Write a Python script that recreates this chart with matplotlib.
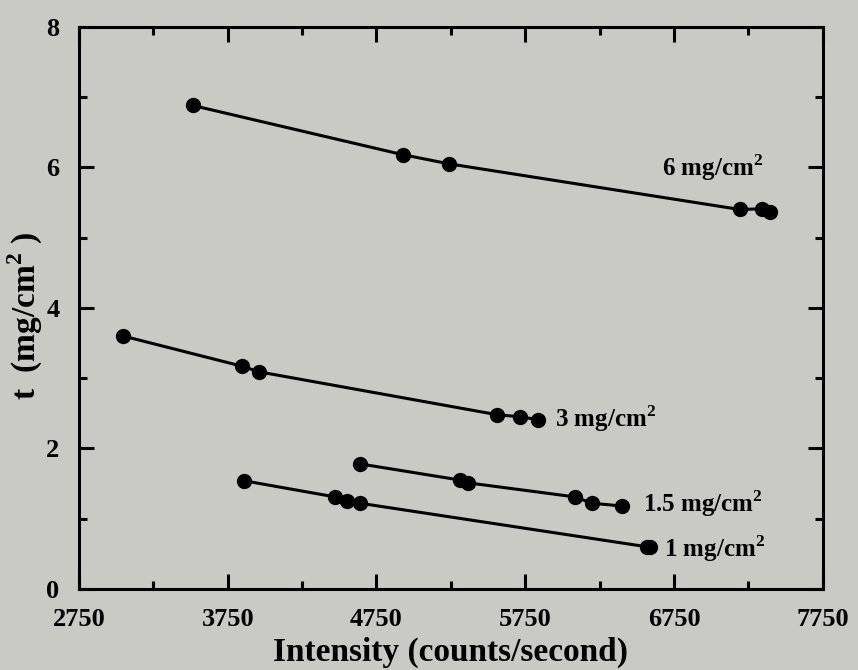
import numpy as np
import matplotlib.pyplot as plt

# thickness data
int_6 = [3516, 4927, 5237, 7192, 7340, 7394]
t_6 = [6.88, 6.18, 6.05, 5.40, 5.41, 5.36]

int_3 = [3046, 3845, 3960, 5559, 5714, 5835]
t_3 = [3.60, 3.17, 3.09, 2.48, 2.45, 2.41]

int_15 = [4638, 5310, 5364, 6083, 6198, 6399]
t_15 = [1.78, 1.55, 1.51, 1.31, 1.22, 1.18]

int_1 = [3859, 4470, 4551, 4638, 6567, 6587]
t_1 = [1.54, 1.31, 1.25, 1.22, 0.60, 0.60]

labels = ['6 mg/cm$^{\\mathbf{2}}$', '3 mg/cm$^{\\mathbf{2}}$',
          '1.5 mg/cm$^{\\mathbf{2}}$', '1 mg/cm$^{\\mathbf{2}}$']
label_pos = [(6670, 6.0), (5950, 2.42), (6540, 1.22), (6680, 0.58)]

xticks = [2750, 3750, 4750, 5750, 6750, 7750]
yticks = [0, 2, 4, 6, 8]

plt.rcParams['font.family'] = 'Liberation Serif'
plt.rcParams['font.weight'] = 'bold'
plt.rcParams['mathtext.fontset'] = 'custom'
plt.rcParams['mathtext.rm'] = 'Liberation Serif:bold'
plt.rcParams['mathtext.bf'] = 'Liberation Serif:bold'

bg = '#c9cac4'
fig = plt.figure(figsize=(8.58, 6.70), dpi=100, facecolor=bg)
ax = fig.add_axes([0.092, 0.121, 0.867, 0.839], facecolor=bg)

for xs, ys in [(int_6, t_6), (int_3, t_3), (int_15, t_15), (int_1, t_1)]:
    ax.plot(xs, ys, color='black', lw=2.2, marker='o', ms=10, mfc='black', mec='black')

for txt, (x, y) in zip(labels, label_pos):
    ax.text(x, y, txt, fontsize=18, fontweight='bold', va='center', ha='left')

ax.set_xlim(2750, 7750)
ax.set_ylim(0, 8)
ax.set_xticks(xticks)
ax.set_xticks(np.arange(3250, 7750, 1000), minor=True)
ax.set_yticks(yticks)
ax.set_yticks([1, 3, 5, 7], minor=True)
ax.tick_params(which='both', direction='in', top=True, right=True, width=2.2)
ax.tick_params(which='major', length=11, labelsize=19)
ax.tick_params(which='minor', length=6)
ax.tick_params(axis='x', pad=14)
ax.tick_params(axis='y', pad=14)
for s in ax.spines.values():
    s.set_linewidth(2.2)

ax.set_xlabel('Intensity (counts/second)', fontsize=24, fontweight='bold', labelpad=4)
ax.set_ylabel('t  (mg/cm$^{\\mathbf{2}}$ )', fontsize=24, fontweight='bold')
ax.yaxis.set_label_coords(-0.045, 0.486)

fig.savefig('out.png', dpi=100, facecolor=bg)
